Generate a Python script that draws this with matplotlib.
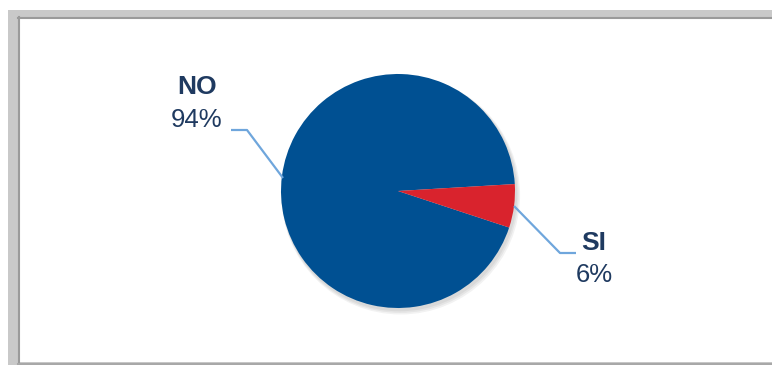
import matplotlib
matplotlib.use("Agg")
import matplotlib.pyplot as plt
from matplotlib.patches import Rectangle

# data
labels = ["NO", "SI"]
percents = [94, 6]
colors = ["#005092", "#d9232d"]

W, H = 772, 365
CX, CY, R = 398, 191, 117  # pie centre / radius in pixels

plt.rcParams['font.family'] = ['Liberation Sans', 'DejaVu Sans']

fig = plt.figure(figsize=(W / 100, H / 100), dpi=100)
fig.patch.set_facecolor('white')

# background frame drawn in pixel coords
bg = fig.add_axes([0, 0, 1, 1])
bg.set_xlim(0, W)
bg.set_ylim(H, 0)
bg.axis('off')
bg.add_patch(Rectangle((8, 10), W - 8, H - 10, facecolor='#c9c9c9', edgecolor='none'))
bg.add_patch(Rectangle((19, 18), W - 19, 344, facecolor='white', edgecolor='none'))
bg.plot([18.5, 18.5], [17, 363], color='#9a9a9a', lw=1.5)
bg.plot([18, W], [17.5, 17.5], color='#9a9a9a', lw=1.5)
bg.plot([18, W], [363.5, 363.5], color='#a8a8a8', lw=1.5)


def to_data(px, py):
    return (px - CX) / R, (CY - py) / R


ax = fig.add_axes([0, 0, 1, 1])
ax.patch.set_alpha(0)

# soft shadow under the pie
for i, a in enumerate([0.05, 0.05, 0.05]):
    sh = plt.Circle((1.5 / R + i * 0.6 / R, -2.5 / R - i * 0.8 / R), 1.0 + (i + 1) * 0.8 / R,
                    color='black', alpha=a, lw=0)
    ax.add_patch(sh)

ax.pie(percents, colors=colors, startangle=3.4, counterclock=True,
       radius=1.0, center=(0, 0), wedgeprops=dict(linewidth=0))

ax.set_xlim(-CX / R, (W - CX) / R)
ax.set_ylim(-(H - CY) / R, CY / R)
ax.set_aspect('equal', adjustable='box')
ax.axis('off')

# leader lines
lead = '#6fa6dc'
no_pts = [to_data(231, 130), to_data(247, 130), to_data(283, 178)]
si_pts = [to_data(514, 206), to_data(560, 253), to_data(576, 253)]
for pts in (no_pts, si_pts):
    ax.plot([p[0] for p in pts], [p[1] for p in pts], color=lead, lw=1.6,
            solid_capstyle='butt', zorder=1)

txt = '#1f3a60'
label_pos = {"NO": (197, 87, 120), "SI": (594, 243, 275)}
for lab, pct in zip(labels, percents):
    x, y1, y2 = label_pos[lab]
    ax.text(*to_data(x, y1), lab, ha='center', va='center', fontsize=19,
            fontweight='bold', color=txt)
    ax.text(*to_data(x, y2), f"{pct}%", ha='center', va='center', fontsize=18.5,
            color=txt)

fig.savefig("out.png", dpi=100, facecolor='white')
